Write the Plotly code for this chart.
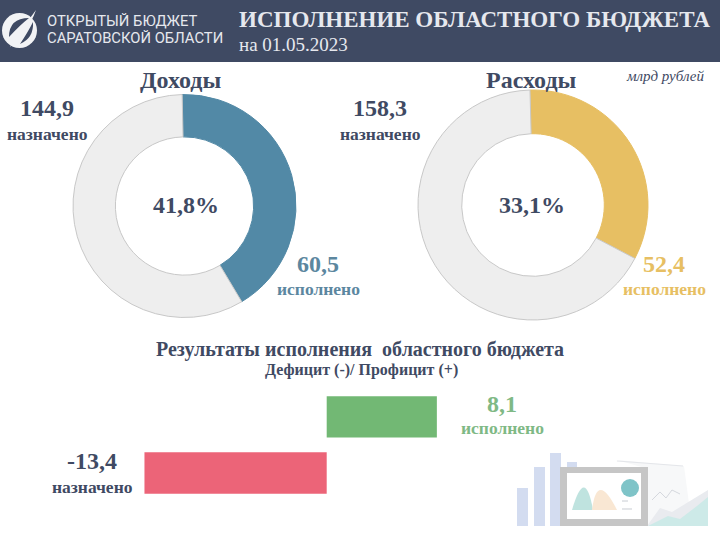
import plotly.graph_objects as go

# Data
pie_labels = ["исполнено", "остаток"]
income_values = [60.5, 84.4]
expense_values = [52.4, 105.9]
bar_categories = ["исполнено", "назначено"]
bar_values = [8.1, -13.4]
bar_colors = ["#72b874", "#ec6478"]

W, H = 720, 540
SERIF = "Liberation Serif"
DARK = "#3f4a63"
fig = go.Figure()


def dom(cx, cy, r):
    return dict(x=[(cx - r) / W, (cx + r) / W], y=[1 - (cy + r) / H, 1 - (cy - r) / H])


def ring(values, color, cx, cy, r, rot):
    fig.add_trace(go.Pie(labels=pie_labels, values=values, hole=0.62, sort=False,
                         direction="clockwise", rotation=rot, textinfo="none",
                         showlegend=False, domain=dom(cx, cy, r),
                         marker=dict(colors=[color, "#eeeeee"],
                                     line=dict(color=[color, "#c8c8c8"], width=1))))


ring(income_values, "#5289a6", 184.5, 206, 111.5, -1.2)
ring(expense_values, "#e7bf63", 533, 205, 115, -1.5)

fig.add_trace(go.Bar(y=bar_categories, x=bar_values, orientation="h", width=0.735,
                     marker=dict(color=bar_colors, line=dict(width=0)), showlegend=False))

shapes = [dict(type="rect", xref="paper", yref="paper", x0=0, x1=1, y0=1 - 62 / H, y1=1,
               fillcolor=DARK, line_width=0, layer="below")]


def P(x, y):
    return f"{x / W:.5f},{1 - y / H:.5f}"


def px_rect(x0, y0, x1, y1, color):
    shapes.append(dict(type="rect", xref="paper", yref="paper", x0=x0 / W, x1=x1 / W,
                       y0=1 - y1 / H, y1=1 - y0 / H, fillcolor=color, line_width=0, layer="below"))


def px_path(points, color):
    d = "M" + " L".join(P(x, y) for x, y in points) + " Z"
    shapes.append(dict(type="path", xref="paper", yref="paper", path=d, fillcolor=color,
                       line_width=0, layer="below"))


def px_curve(start, curves, color):
    d = "M" + P(*start)
    for c, e in curves:
        d += " Q" + P(*c) + " " + P(*e)
    d += " Z"
    shapes.append(dict(type="path", xref="paper", yref="paper", path=d, fillcolor=color,
                       line_width=0, layer="below"))


def px_circle(cx, cy, r, color):
    shapes.append(dict(type="circle", xref="paper", yref="paper", x0=(cx - r) / W, x1=(cx + r) / W,
                       y0=1 - (cy + r) / H, y1=1 - (cy - r) / H, fillcolor=color, line_width=0, layer="below"))


def px_line(points, color, width=1):
    d = "M" + " L".join(P(x, y) for x, y in points)
    shapes.append(dict(type="path", xref="paper", yref="paper", path=d,
                       line=dict(color=color, width=width), layer="below"))


# decorative illustration, bottom right
px_rect(517, 488, 528, 526, "#d3dcf0")
px_rect(534, 467, 545, 526, "#d3dcf0")
px_rect(550, 453, 561, 526, "#d3dcf0")
px_rect(567, 462, 577, 468, "#d3dcf0")
px_path([(617, 460), (684, 466), (692, 526), (645, 526), (645, 468)], "#f7f8f9")
px_line([(617, 461), (683, 466)], "#e4e6ea")
px_line([(652, 500), (660, 492), (666, 498), (672, 490), (680, 494)], "#d5d8de")
px_path([(647, 526), (660, 508), (672, 512), (708, 490), (708, 526)], "#e9ebef")
px_path([(648, 526), (668, 516), (680, 519), (697, 506), (708, 497), (708, 526)], "#cdeae8")
px_rect(560, 467, 648, 526, "#c6c6c6")
px_rect(567, 473, 641, 519, "#ffffff")
px_curve((572, 510), [((585, 465), (593, 510))], "#bfe3df")
px_curve((592, 510), [((597, 470), (617, 510))], "#f9e7d3")
px_circle(630, 488, 9, "#7fc4c8")
px_line([(622, 501), (628, 501)], "#c8ccd2")
px_line([(622, 509), (632, 509)], "#c8ccd2")

# logo
px_circle(19.5, 30.5, 17.5, "#f2f3f5")
px_curve((9, 37), [((9, 18), (29, 18)), ((20, 25), (9, 37))], DARK)
px_curve((33, 22), [((34, 38), (20, 44)), ((28, 32), (33, 22))], DARK)
px_curve((36, 10), [((32, 22), (23, 33)), ((16, 42), (10, 47)), ((16, 34), (22, 27)), ((30, 19), (36, 10))], "#f2f3f5")

annotations = []


def txt(x, y, text, size, color=DARK, bold=True, anchor="center", family=SERIF, italic=False):
    s = text
    if bold:
        s = f"<b>{s}</b>"
    if italic:
        s = f"<i>{s}</i>"
    annotations.append(dict(x=x / W, y=1 - y / H, xref="paper", yref="paper", text=s, showarrow=False,
                            xanchor=anchor, yanchor="middle",
                            font=dict(size=size, color=color, family=family)))


LIGHT = "#e6e8ee"
BLUE_T = "#5c879f"
YEL_T = "#e7bf63"
GRN_T = "#7fb985"
txt(45, 21, "ОТКРЫТЫЙ БЮДЖЕТ", 14.8, LIGHT, False, "left", "Roboto")
txt(45, 38, "САРАТОВСКОЙ ОБЛАСТИ", 14.8, LIGHT, False, "left", "Roboto")
txt(237, 19, "ИСПОЛНЕНИЕ ОБЛАСТНОГО БЮДЖЕТА", 23, LIGHT, True, "left")
txt(237, 44, "на 01.05.2023", 19, LIGHT, False, "left")
txt(180, 80, "Доходы", 24)
txt(531, 80, "Расходы", 24)
txt(665, 76, "млрд рублей", 15, DARK, False, "center", SERIF, True)
txt(47, 108, "144,9", 24)
txt(47, 134, "назначено", 17.5)
txt(380, 108, "158,3", 24)
txt(380, 134, "назначено", 17.5)
txt(186, 205, "41,8%", 24)
txt(532, 205, "33,1%", 24)
txt(318, 264, "60,5", 24, BLUE_T)
txt(318, 289, "исполнено", 17.5, BLUE_T)
txt(664, 264, "52,4", 24, YEL_T)
txt(664, 289, "исполнено", 17.5, YEL_T)
txt(360, 349, "Результаты исполнения  областного бюджета", 20)
txt(361, 370, "Дефицит (-)/ Профицит (+)", 16)
txt(502, 404, "8,1", 24, GRN_T)
txt(502, 428, "исполнено", 17.5, GRN_T)
txt(92, 461, "-13,4", 24)
txt(92, 487, "назначено", 17.5)

PX_PER_UNIT = 13.6
ZERO_PX = 326.7
ROW = 56.2
ROW0_PX = 416.8
fig.update_layout(
    width=W, height=H, margin=dict(l=0, r=0, t=0, b=0), paper_bgcolor="white", plot_bgcolor="rgba(0,0,0,0)",
    shapes=shapes, annotations=annotations, showlegend=False,
    xaxis=dict(range=[-ZERO_PX / PX_PER_UNIT, (W - ZERO_PX) / PX_PER_UNIT], visible=False, domain=[0, 1]),
    yaxis=dict(range=[(H - ROW0_PX) / ROW, -ROW0_PX / ROW], visible=False, domain=[0, 1]),
)
fig.write_html("out.html", config=dict(displayModeBar=False), post_script="document.body.style.margin='0';")
